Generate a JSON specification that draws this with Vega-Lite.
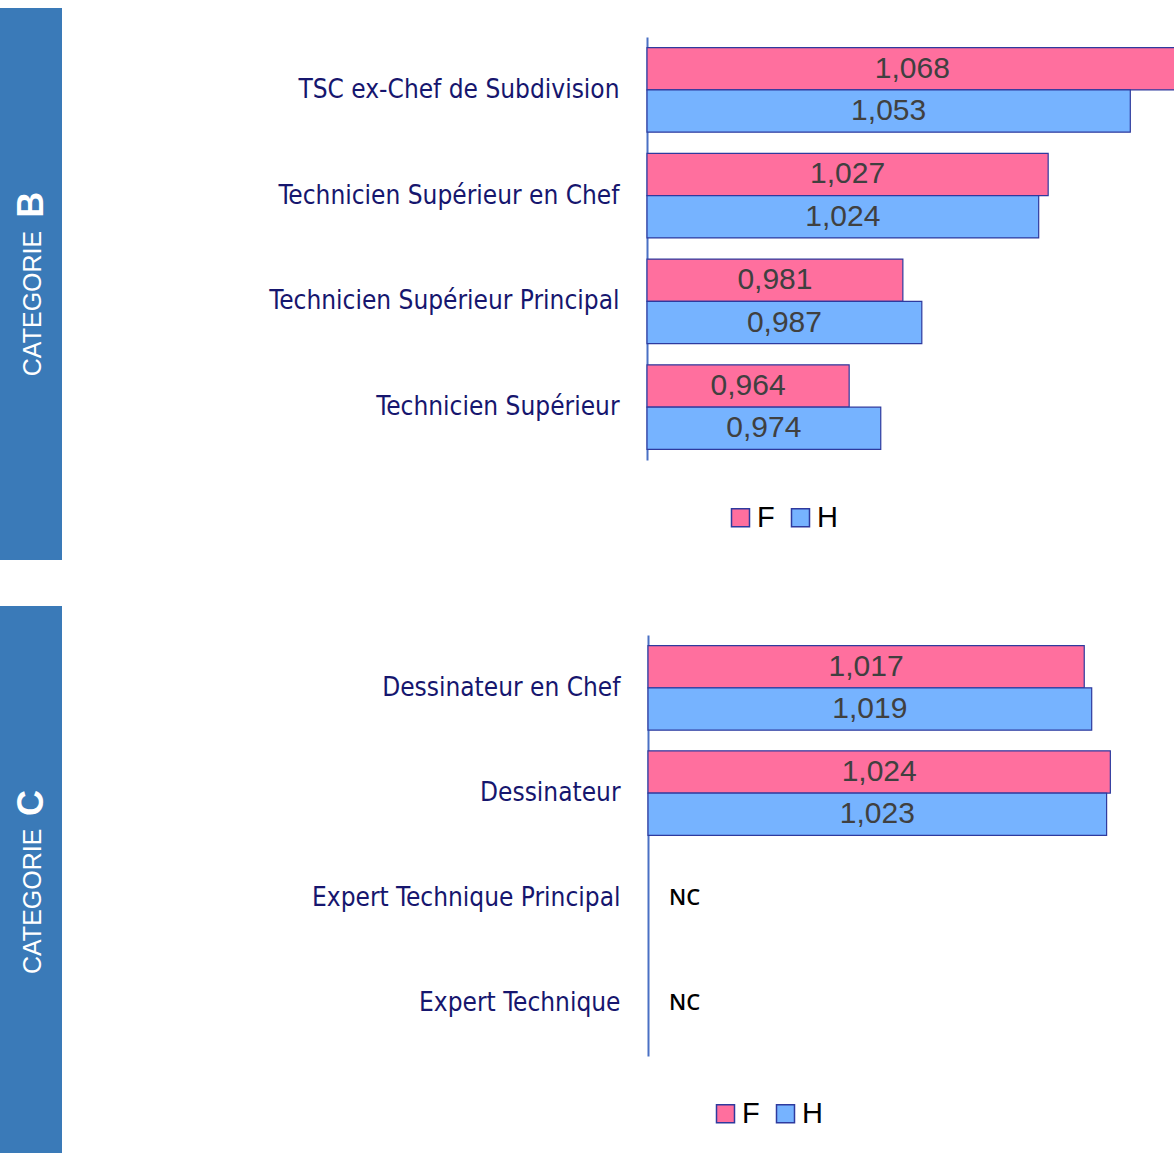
{
  "$schema": "https://vega.github.io/schema/vega-lite/v6.json",
  "background": "white",
  "padding": {"left": 0, "top": 8, "right": 0, "bottom": 0},
  "config": {
    "locale": {"number": {"decimal": ",", "thousands": ".", "grouping": [3], "currency": ["", " €"]}},
    "view": {"stroke": null},
    "axis": {"grid": false}
  },
  "datasets": {
    "B": [
      {"role": "TSC ex-Chef de Subdivision", "sex": "F", "value": 1.068},
      {"role": "TSC ex-Chef de Subdivision", "sex": "H", "value": 1.053},
      {"role": "Technicien Supérieur en Chef", "sex": "F", "value": 1.027},
      {"role": "Technicien Supérieur en Chef", "sex": "H", "value": 1.024},
      {"role": "Technicien Supérieur Principal", "sex": "F", "value": 0.981},
      {"role": "Technicien Supérieur Principal", "sex": "H", "value": 0.987},
      {"role": "Technicien Supérieur", "sex": "F", "value": 0.964},
      {"role": "Technicien Supérieur", "sex": "H", "value": 0.974}
    ],
    "C": [
      {"role": "Dessinateur en Chef", "sex": "F", "value": 1.017},
      {"role": "Dessinateur en Chef", "sex": "H", "value": 1.019},
      {"role": "Dessinateur", "sex": "F", "value": 1.024},
      {"role": "Dessinateur", "sex": "H", "value": 1.023},
      {"role": "Expert Technique Principal", "note": "NC"},
      {"role": "Expert Technique", "note": "NC"}
    ],
    "bannerB": [{"word": "CATEGORIE", "letter": "B"}],
    "bannerC": [{"word": "CATEGORIE", "letter": "C"}]
  },
  "spacing": 46,
  "resolve": {"scale": {"color": "independent"}, "legend": {"color": "independent"}},
  "vconcat": [
    {
      "spacing": 206,
      "resolve": {"scale": {"color": "independent"}, "legend": {"color": "independent"}},
      "hconcat": [
        {
          "width": 62, "height": 552,
          "data": {"name": "bannerB"},
          "view": {"fill": "#3a7ab8", "stroke": null},
          "layer": [
            {
              "mark": {"type": "text", "angle": 270, "align": "left", "baseline": "alphabetic", "font": "Liberation Sans", "fontSize": 25, "color": "white"},
              "encoding": {
                "text": {"field": "word"},
                "x": {"datum": 0.66, "type": "quantitative", "scale": {"domain": [0, 1]}, "axis": null},
                "y": {"datum": 0.667, "type": "quantitative", "scale": {"domain": [1, 0]}, "axis": null}
              }
            },
            {
              "mark": {"type": "text", "angle": 270, "align": "left", "baseline": "alphabetic", "font": "Liberation Sans", "fontWeight": "bold", "fontSize": 36, "color": "white"},
              "encoding": {
                "text": {"field": "letter"},
                "x": {"datum": 0.7, "type": "quantitative", "scale": {"domain": [0, 1]}, "axis": null},
                "y": {"datum": 0.38, "type": "quantitative", "scale": {"domain": [1, 0]}, "axis": null}
              }
            }
          ]
        },
        {
          "width": 537, "height": 552,
          "data": {"name": "B"},
          "transform": [{"calculate": "(datum.value + 0.9) / 2", "as": "mid"}],
          "encoding": {
            "y": {"field": "role", "type": "nominal", "sort": null,
              "scale": {"domain": ["TSC ex-Chef de Subdivision", "Technicien Supérieur en Chef", "Technicien Supérieur Principal", "Technicien Supérieur"], "range": [29, 452], "paddingInner": 0.2, "paddingOuter": 0.1},
              "axis": {"title": null, "ticks": false, "labelPadding": 28, "labelFont": "DejaVu Sans Condensed, Roboto", "labelFontSize": 26, "labelColor": "#16166e", "labelLimit": 0, "domainColor": "#4a70c4", "domainWidth": 2}}
          },
          "layer": [
            {
              "mark": {"type": "bar", "stroke": "#2e3a9e", "strokeWidth": 1.2},
              "encoding": {
                "x": {"field": "value", "type": "quantitative", "scale": {"domain": [0.9, 1.07], "zero": false, "nice": false}, "axis": null},
                "x2": {"datum": 0.9},
                "yOffset": {"field": "sex", "type": "nominal", "scale": {"domain": ["F", "H"], "paddingInner": 0, "paddingOuter": 0}},
                "color": {"field": "sex", "type": "nominal", "scale": {"domain": ["F", "H"], "range": ["#ff6f9e", "#76b3ff"]},
                  "legend": {"title": null, "orient": "none", "legendX": 79, "legendY": 495, "direction": "horizontal", "symbolType": "square", "symbolSize": 324, "symbolStrokeColor": "#2e3a9e", "symbolStrokeWidth": 1.5, "labelFont": "Liberation Sans", "labelFontSize": 29, "labelColor": "black", "labelOffset": 2, "columnPadding": 11, "padding": 0}}
              }
            },
            {
              "mark": {"type": "text", "font": "Liberation Sans", "fontSize": 30, "color": "#404040", "baseline": "middle"},
              "encoding": {
                "x": {"field": "mid", "type": "quantitative"},
                "yOffset": {"field": "sex", "type": "nominal"},
                "text": {"field": "value", "type": "quantitative", "format": ".3f"}
              }
            }
          ]
        }
      ]
    },
    {
      "spacing": 249,
      "resolve": {"scale": {"color": "independent"}, "legend": {"color": "independent"}},
      "hconcat": [
        {
          "width": 62, "height": 560,
          "data": {"name": "bannerC"},
          "view": {"fill": "#3a7ab8", "stroke": null},
          "layer": [
            {
              "mark": {"type": "text", "angle": 270, "align": "left", "baseline": "alphabetic", "font": "Liberation Sans", "fontSize": 25, "color": "white"},
              "encoding": {
                "text": {"field": "word"},
                "x": {"datum": 0.66, "type": "quantitative", "scale": {"domain": [0, 1]}, "axis": null},
                "y": {"datum": 368, "type": "quantitative", "scale": {"domain": [560, 0]}, "axis": null}
              }
            },
            {
              "mark": {"type": "text", "angle": 270, "align": "left", "baseline": "alphabetic", "font": "Liberation Sans", "fontWeight": "bold", "fontSize": 36, "color": "white"},
              "encoding": {
                "text": {"field": "letter"},
                "x": {"datum": 0.7, "type": "quantitative", "scale": {"domain": [0, 1]}, "axis": null},
                "y": {"datum": 210, "type": "quantitative", "scale": {"domain": [560, 0]}, "axis": null}
              }
            }
          ]
        },
        {
          "width": 522, "height": 560,
          "data": {"name": "C"},
          "transform": [{"calculate": "(datum.value + 0.9) / 2", "as": "mid"}],
          "encoding": {
            "y": {"field": "role", "type": "nominal", "sort": null,
              "scale": {"domain": ["Dessinateur en Chef", "Dessinateur", "Expert Technique Principal", "Expert Technique"], "range": [29, 450], "paddingInner": 0.2, "paddingOuter": 0.1},
              "axis": {"title": null, "ticks": false, "labelPadding": 28, "labelFont": "DejaVu Sans Condensed, Roboto", "labelFontSize": 26, "labelColor": "#16166e", "labelLimit": 0, "domainColor": "#4a70c4", "domainWidth": 2}}
          },
          "layer": [
            {
              "transform": [{"filter": "isValid(datum.value)"}],
              "mark": {"type": "bar", "stroke": "#2e3a9e", "strokeWidth": 1.2},
              "encoding": {
                "x": {"field": "value", "type": "quantitative", "scale": {"domain": [0.9, 1.04], "zero": false, "nice": false}, "axis": null},
                "x2": {"datum": 0.9},
                "yOffset": {"field": "sex", "type": "nominal", "scale": {"domain": ["F", "H"], "paddingInner": 0, "paddingOuter": 0}},
                "color": {"field": "sex", "type": "nominal", "scale": {"domain": ["F", "H"], "range": ["#ff6f9e", "#76b3ff"]},
                  "legend": {"title": null, "orient": "none", "legendX": 63, "legendY": 493, "direction": "horizontal", "symbolType": "square", "symbolSize": 324, "symbolStrokeColor": "#2e3a9e", "symbolStrokeWidth": 1.5, "labelFont": "Liberation Sans", "labelFontSize": 29, "labelColor": "black", "labelOffset": 2, "columnPadding": 11, "padding": 0}}
              }
            },
            {
              "transform": [{"filter": "isValid(datum.value)"}],
              "mark": {"type": "text", "font": "Liberation Sans", "fontSize": 30, "color": "#404040", "baseline": "middle"},
              "encoding": {
                "x": {"field": "mid", "type": "quantitative"},
                "yOffset": {"field": "sex", "type": "nominal"},
                "text": {"field": "value", "type": "quantitative", "format": ".3f"}
              }
            },
            {
              "transform": [{"filter": "isValid(datum.note)"}],
              "mark": {"type": "text", "font": "Open Sans", "fontWeight": 600, "fontSize": 22, "color": "black", "align": "left", "baseline": "middle", "dx": 21},
              "encoding": {
                "x": {"datum": 0.9, "type": "quantitative"},
                "text": {"field": "note"}
              }
            }
          ]
        }
      ]
    }
  ]
}
